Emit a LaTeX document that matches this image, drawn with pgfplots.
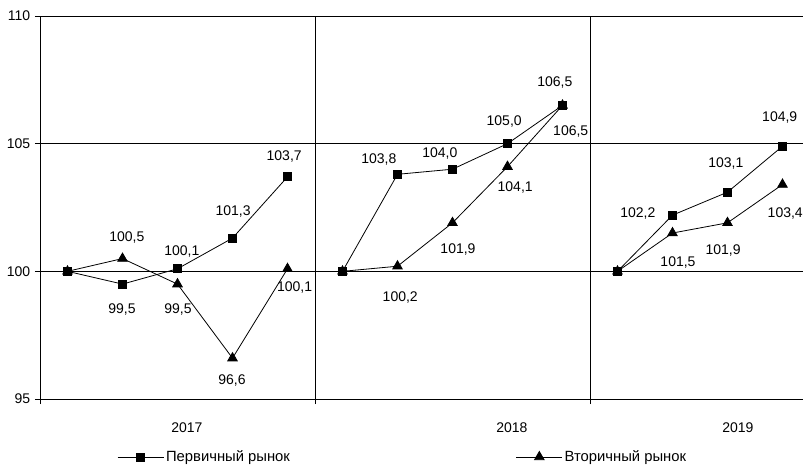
\documentclass[border=0pt]{standalone}
\usepackage{fontspec}
\setmainfont{Liberation Sans}
\usepackage{pgfplots}
\pgfplotsset{compat=1.18}
\begin{document}
\fontsize{14}{16}\selectfont
\begin{tikzpicture}
\path[use as bounding box] (0,0) rectangle (803pt,464pt);
\begin{axis}[
  at={(40pt,65pt)}, anchor=south west,
  scale only axis, width=763pt, height=383pt,
  xmin=0, xmax=13.873, ymin=95, ymax=110,
  axis x line*=bottom, axis y line*=left,
  axis line style={-, line width=0.8pt, black},
  ytick={95,100,105,110},
  xtick={0,5,10}, xticklabels={},
  extra x ticks={2.67,8.58,12.69},
  extra x tick labels={2017,2018,2019},
  extra x tick style={major tick length=0pt, grid=none},
  xmajorgrids, ymajorgrids,
  grid style={black, line width=0.6pt},
  tick align=outside, major tick length=5pt,
  tick style={black, line width=0.6pt},
  /pgf/number format/assume math mode=true,
  tick label style={font=\fontsize{14}{16}\selectfont},
  xticklabel style={anchor=center, yshift=-29pt},
  legend columns=2,
  legend style={draw=none, fill=none, at={(axis description cs:0.101,-0.1514)}, anchor=west, inner sep=0pt,
    font=\fontsize{14.8}{17}\selectfont,
    /tikz/every even column/.append style={column sep=224pt}},
  legend cell align=left,
  legend image code/.code={\draw[mark repeat=2,mark phase=2] plot coordinates {(0pt,0pt)(23pt,0pt)(46pt,0pt)};},
  every axis plot/.append style={black, line width=0.8pt},
  sq/.style={mark=square*, mark size=4pt, mark options={solid}},
  tr/.style={mark=triangle*, mark size=5.5pt, mark options={solid}},
  clip mode=individual,
]
\addplot[sq] coordinates {(0.5,100)(1.5,99.5)(2.5,100.1)(3.5,101.3)(4.5,103.7)};
\addlegendentry{Первичный рынок}
\addplot[tr] coordinates {(0.5,100)(1.5,100.5)(2.5,99.5)(3.5,96.6)(4.5,100.1)};
\addlegendentry{Вторичный рынок}
\addplot[sq, forget plot] coordinates {(5.5,100)(6.5,103.8)(7.5,104.0)(8.5,105.0)(9.5,106.5)};
\addplot[sq, forget plot] coordinates {(10.5,100)(11.5,102.2)(12.5,103.1)(13.5,104.9)};
\addplot[tr, forget plot] coordinates {(5.5,100)(6.5,100.2)(7.5,101.9)(8.5,104.1)(9.5,106.5)};
\addplot[tr, forget plot] coordinates {(10.5,100)(11.5,101.5)(12.5,101.9)(13.5,103.4)};
\foreach \x/\y/\t in {1.58/101.31/{100,5}, 1.49/98.49/{99,5}, 2.58/100.76/{100,1}, 2.51/98.52/{99,5},
  3.51/102.36/{101,3}, 3.49/95.74/{96,6}, 4.44/104.48/{103,7}, 4.63/99.35/{100,1},
  6.16/104.38/{103,8}, 6.55/98.96/{100,2}, 7.27/104.63/{104,0}, 7.6/100.87/{101,9},
  8.44/105.85/{105,0}, 8.64/103.30/{104,1}, 9.36/107.38/{106,5}, 9.65/105.46/{106,5},
  10.87/102.28/{102,2}, 11.6/100.33/{101,5}, 12.42/100.80/{101,9}, 12.47/104.24/{103,1},
  13.45/106.01/{104,9}, 13.55/102.28/{103,4}}
  {\edef\tmp{\noexpand\node[inner sep=0pt, font=\noexpand\fontsize{14}{16}\noexpand\selectfont] at (axis cs:\x,\y) {\t};}\tmp}
\end{axis}
\end{tikzpicture}
\end{document}
